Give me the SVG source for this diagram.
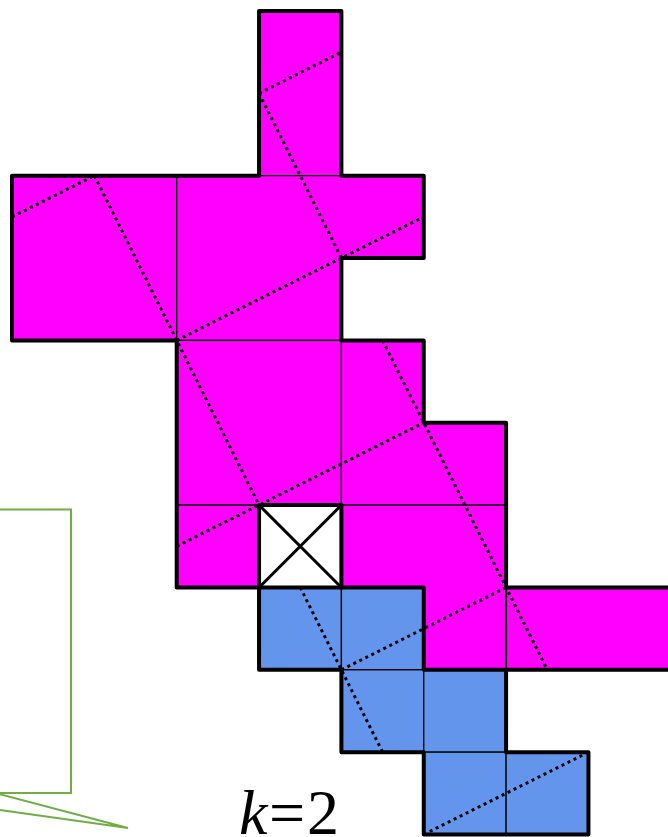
<svg xmlns="http://www.w3.org/2000/svg" width="668" height="837" viewBox="0 0 668 837">
<style>
.m{fill:#FF00FF;stroke:#000;stroke-width:1.3}
.b{fill:#6495ED;stroke:#000;stroke-width:1.3}
.thick{fill:none;stroke:#000;stroke-width:4;stroke-linejoin:round;stroke-linecap:round}
.dot{fill:none;stroke:#000;stroke-width:3;stroke-dasharray:3 3.7}
.callout{fill:none;stroke:#70AD47;stroke-width:2}
</style>
<rect width="668" height="837" fill="#fff"/>
<g id="callout">
<path class="callout" d="M -20 509.5 H 71 V 793 H -5 L 128 828 L -20 807.2"/>
</g>
<g id="regions">
<rect id="A" class="m" x="259.05" y="11" width="82.35" height="164.7"/>
<rect id="B" class="m" x="12" y="175.7" width="164.7" height="164.7"/>
<polygon id="C" class="m" points="176.7,175.7 423.75,175.7 423.75,258.05 341.4,258.05 341.4,340.4 176.7,340.4"/>
<rect id="D" class="m" x="176.7" y="340.4" width="164.7" height="164.7"/>
<polygon id="E" class="m" points="341.4,340.4 423.75,340.4 423.75,422.75 506.1,422.75 506.1,505.1 341.4,505.1"/>
<rect id="F" class="m" x="176.7" y="505.1" width="82.35" height="82.35"/>
<polygon id="G" class="m" points="341.4,505.1 506.1,505.1 506.1,669.8 423.75,669.8 423.75,587.45 341.4,587.45"/>
<rect id="H" class="m" x="506.1" y="587.45" width="170" height="82.35"/>
<rect id="b1" class="b" x="259.05" y="587.45" width="82.35" height="82.35"/>
<rect id="b2" class="b" x="341.4" y="587.45" width="82.35" height="82.35"/>
<rect id="b3" class="b" x="341.4" y="669.8" width="82.35" height="82.35"/>
<rect id="b4" class="b" x="423.75" y="669.8" width="82.35" height="82.35"/>
<rect id="b5" class="b" x="423.75" y="752.15" width="82.35" height="82.35"/>
<rect id="b6" class="b" x="506.1" y="752.15" width="82.35" height="82.35"/>
</g>
<g id="connectors">
<path class="dot" d="M12,216.88 L94.35,175.7 M259.05,93.35 L341.4,52.18 M176.7,340.4 L423.75,216.88 M176.7,546.28 L423.75,422.75 M341.4,669.8 L506.1,587.45 M423.75,834.5 L588.45,752.15 M94.35,175.7 L259.05,505.1 M300.23,587.45 L382.58,752.15 M259.05,93.35 L341.4,258.05 M382.58,340.4 L547.28,669.8"/>
</g>
<g id="outline">
<path class="thick" d="M672,669.8 H506.1 V752.15 H588.45 V834.5 H423.75 V752.15 H341.4 V669.8 H259.05 V587.45 H176.7 V340.4 H12 V175.7 H259.05 V11 H341.4 V175.7 H423.75 V258.05 H341.4 V340.4 H423.75 V422.75 H506.1 V587.45 H672"/>
<path class="thick" d="M341.4,587.45 H423.75 V669.8 H506.1"/>
<line x1="506.1" y1="587.45" x2="506.1" y2="669.8" stroke="#000" stroke-width="2"/>
</g>
<g id="Xcell">
<rect x="259.05" y="505.1" width="82.35" height="82.35" fill="#fff" stroke="#000" stroke-width="4" stroke-linejoin="round"/>
<path d="M259.05,505.1 L341.4,587.45 M341.4,505.1 L259.05,587.45" stroke="#000" stroke-width="3"/>
</g>
<g id="label">
<text y="834" font-family="Liberation Serif, serif" font-size="64" fill="#000"><tspan x="239" font-style="italic">k</tspan><tspan x="269">=</tspan><tspan x="307">2</tspan></text>
</g>
</svg>
